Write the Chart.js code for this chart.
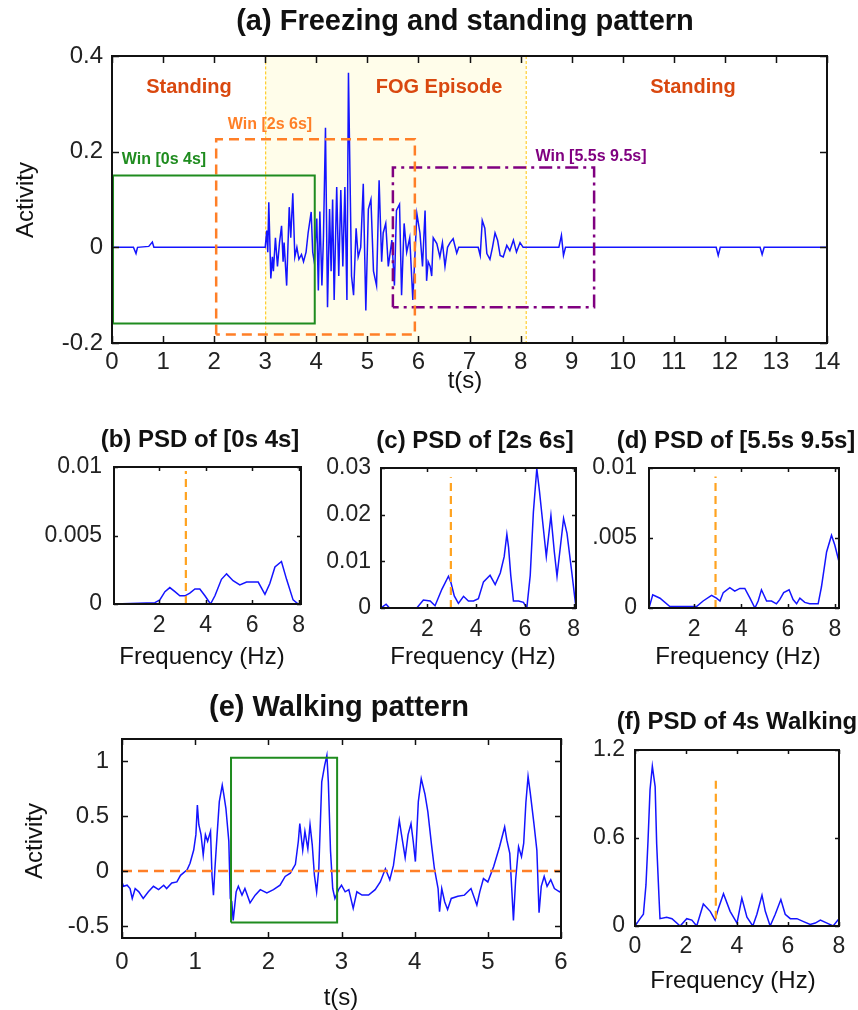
<!DOCTYPE html>
<html>
<head>
<meta charset="utf-8">
<script src="https://cdn.jsdelivr.net/npm/chart.js@4.4.0/dist/chart.umd.min.js"></script>
<style>
  body { margin: 0; background: #fff; }
  #wrap { position: relative; width: 858px; height: 1010px; overflow: hidden; background: #fff; }
  canvas { position: absolute; left: 0; top: 0; }
</style>
</head>
<body>
<div id="wrap">
  <canvas id="ca" width="858" height="1010"></canvas>
  <canvas id="cb" width="858" height="1010"></canvas>
  <canvas id="cc" width="858" height="1010"></canvas>
  <canvas id="cd" width="858" height="1010"></canvas>
  <canvas id="ce" width="858" height="1010"></canvas>
  <canvas id="cf" width="858" height="1010"></canvas>
</div>
<script>
// ---- data ----

// (a) activity signal, freezing + standing
const sigT = [0, 0.42, 0.47, 0.5, 0.72, 0.79, 0.82, 3.0,
  3.03, 3.05, 3.07, 3.11, 3.14, 3.16, 3.20, 3.24, 3.28, 3.32, 3.35, 3.37, 3.42, 3.47, 3.50, 3.54, 3.58,
  3.62, 3.66, 3.71, 3.75, 3.80, 3.84, 3.90, 3.93, 3.96, 4.01, 4.04, 4.07, 4.11, 4.14, 4.18, 4.22, 4.26,
  4.29, 4.32, 4.35, 4.40, 4.44, 4.48, 4.52, 4.56, 4.60, 4.63, 4.66, 4.69, 4.73, 4.78, 4.82, 4.87, 4.92,
  4.97, 5.02, 5.07, 5.12, 5.18, 5.23, 5.28, 5.31, 5.36, 5.41, 5.48, 5.53, 5.57, 5.63, 5.67, 5.72, 5.77,
  5.83, 5.89, 5.97, 6.03, 6.08, 6.13, 6.16, 6.19, 6.23, 6.26, 6.29, 6.36, 6.42, 6.47, 6.52, 6.57, 6.62,
  6.68, 6.75, 6.79, 7.17, 7.21, 7.25, 7.30, 7.34, 7.40, 7.45, 7.50, 7.55, 7.60, 7.66, 7.73, 7.79, 7.86,
  7.92, 7.99, 8.05, 8.75, 8.80, 8.84, 8.88, 11.83, 11.87, 11.91, 12.69, 12.73, 12.77, 14];
const sigV = [0, 0, -0.013, 0, 0.002, 0.011, 0, 0,
  0.035, -0.01, 0.094, -0.065, -0.02, -0.05, 0.02, -0.04, 0.01, 0.045, -0.03, 0.01, -0.08, 0.084, 0.02, 0.113, -0.02,
  0, -0.025, -0.015, -0.03, -0.01, 0.03, 0.074, -0.01, -0.03, 0.06, -0.09, 0.075, -0.08, 0.02, 0.25, -0.125, 0.08,
  -0.05, 0.10, -0.11, 0.126, -0.06, 0.12, -0.04, 0.126, -0.11, 0.365, 0.15, -0.06, -0.10, 0.04, -0.02, 0, 0.133,
  -0.132, 0.08, 0.10, -0.05, -0.08, 0.14, -0.03, 0.03, 0.05, -0.04, 0.015, -0.08, 0.077, 0.09, -0.10, 0.05, -0.01,
  0.02, -0.11, 0.07, 0.03, -0.04, 0.077, -0.07, -0.03, -0.04, -0.06, 0.02, 0.008, -0.02, 0.01, -0.04, 0, 0.01,
  0.018, -0.012, 0, 0, -0.017, 0.056, 0.04, -0.013, -0.025, 0, 0.03, 0.015, -0.017, -0.02, 0.004, -0.007, 0.015,
  -0.01, 0.01, 0, 0, 0.025, -0.017, 0, 0, -0.017, 0, 0, -0.015, 0, 0];

// FOG episode span and the three analysis windows (seconds / activity units)
const fogSpan = [3.0, 8.1];
const winStart = [0.02, 2.04, 5.5];
const winEnd = [3.97, 5.93, 9.44];
const winHigh = [0.15, 0.226, 0.167];
const winLow = [-0.159, -0.182, -0.125];

// (b) PSD of [0s 4s]
const psdBF = [0.06, 1.82, 2.03, 2.25, 2.46, 2.68, 2.89, 3.11, 3.32, 3.54, 3.75, 3.97, 4.21, 4.40, 4.68, 4.90,
  5.18, 5.47, 5.76, 6.26, 6.55, 6.76, 6.98, 7.26, 7.48, 7.76, 7.98];
const psdBV = [0, 0.0001, 0.0003, 0.0009, 0.0012, 0.0009, 0.0006, 0.0006, 0.0008, 0.0011, 0.0011, 0.0006, 0, 0.0006,
  0.0018, 0.0022, 0.0017, 0.0014, 0.0016, 0.0016, 0.0007, 0.0015, 0.0027, 0.0031, 0.0018, 0.0003, 0];

// (c) PSD of [2s 6s]
const psdCF = [0.09, 0.30, 0.44, 1.56, 1.83, 2.11, 2.31, 2.59, 2.86, 2.96, 3.10, 3.27, 3.48, 3.68, 3.89, 4.09,
  4.30, 4.57, 4.78, 4.99, 5.15, 5.26, 5.33, 5.42, 5.53, 5.74, 5.94, 6.08, 6.22, 6.35, 6.49, 6.60, 6.74, 6.88,
  7.07, 7.21, 7.32, 7.59, 7.73, 7.93, 8.1];
const psdCV = [0, 0.0008, 0, 0, 0.0017, 0.0015, 0.0005, 0.004, 0.0068, 0.0055, 0.0026, 0.001, 0.0025, 0.0015,
  0.0015, 0.002, 0.0056, 0.007, 0.005, 0.0075, 0.011, 0.0158, 0.013, 0.007, 0.0015, 0.0015, 0.0012, 0, 0.007,
  0.0206, 0.0299, 0.025, 0.018, 0.011, 0.0198, 0.012, 0.0068, 0.0192, 0.016, 0.0075, 0];

// (d) PSD of [5.5s 9.5s]
const psdDF = [0.07, 0.23, 0.54, 0.96, 2.10, 2.38, 2.74, 2.95, 3.10, 3.24, 3.52, 3.73, 3.95, 4.16, 4.38, 4.59,
  4.73, 4.87, 5.09, 5.30, 5.51, 5.65, 5.82, 6.05, 6.22, 6.37, 6.51, 6.72, 6.93, 7.29, 7.43, 7.65, 7.86, 8.0, 8.18];
const psdDV = [0, 0.00095, 0.0007, 0.0001, 0.0001, 0.0005, 0.0009, 0.0007, 0.0005, 0.0011, 0.00145, 0.0012, 0.0014,
  0.0014, 0.0007, 0, 0.0005, 0.0013, 0.0005, 0.0005, 0.0003, 0.0006, 0.0011, 0.0013, 0.0006, 0.0003, 0.0007,
  0.0004, 0.0003, 0.0003, 0.0015, 0.004, 0.0052, 0.0045, 0.0033];

// (e) walking activity
const walkT = [0, 0.02, 0.07, 0.11, 0.14, 0.18, 0.23, 0.29, 0.36, 0.43, 0.50, 0.57, 0.61, 0.68, 0.75, 0.80, 0.89,
  0.93, 0.98, 1.01, 1.03, 1.05, 1.08, 1.11, 1.14, 1.17, 1.21, 1.23, 1.25, 1.27, 1.30, 1.33, 1.37, 1.39, 1.42,
  1.46, 1.48, 1.50, 1.52, 1.56, 1.59, 1.64, 1.68, 1.75, 1.82, 1.89, 1.98, 2.07, 2.16, 2.23, 2.30, 2.37, 2.41,
  2.43, 2.47, 2.50, 2.54, 2.57, 2.60, 2.63, 2.66, 2.69, 2.73, 2.77, 2.80, 2.82, 2.85, 2.88, 2.91, 2.96, 3.00,
  3.05, 3.10, 3.16, 3.21, 3.28, 3.37, 3.46, 3.53, 3.60, 3.66, 3.71, 3.76, 3.79, 3.82, 3.87, 3.91, 3.95, 3.98,
  4.01, 4.05, 4.09, 4.14, 4.18, 4.23, 4.27, 4.32, 4.34, 4.37, 4.41, 4.45, 4.50, 4.59, 4.68, 4.77, 4.85, 4.89,
  4.94, 5.00, 5.08, 5.16, 5.23, 5.26, 5.30, 5.33, 5.35, 5.38, 5.42, 5.46, 5.49, 5.52, 5.55, 5.58, 5.63, 5.67,
  5.70, 5.73, 5.77, 5.81, 5.86, 5.91, 5.98, 6.0];
const walkV = [-0.10, -0.14, -0.13, -0.16, -0.25, -0.16, -0.19, -0.25, -0.19, -0.14, -0.17, -0.13, -0.16, -0.11,
  -0.10, -0.04, 0.01, 0.07, 0.19, 0.33, 0.60, 0.42, 0.33, 0.145, 0.33, 0.27, 0.36, -0.04, -0.22, 0.02, 0.33, 0.63,
  0.78, 0.70, 0.57, 0.27, -0.25, -0.28, -0.45, -0.19, -0.14, -0.22, -0.16, -0.29, -0.22, -0.17, -0.20, -0.17,
  -0.13, -0.05, -0.02, 0.06, 0.27, 0.43, 0.19, 0.36, 0.20, 0.42, 0.24, -0.04, -0.19, 0.02, 0.81, 0.96, 1.05,
  0.81, 0.18, -0.16, -0.25, -0.17, -0.13, -0.19, -0.17, -0.34, -0.19, -0.22, -0.22, -0.17, -0.10, 0.02, -0.08,
  0.05, 0.30, 0.46, 0.33, 0.12, 0.33, 0.43, 0.27, 0.085, 0.63, 0.84, 0.70, 0.54, 0.24, 0.02, -0.16, -0.37, -0.16,
  -0.28, -0.35, -0.25, -0.23, -0.22, -0.16, -0.31, -0.19, -0.07, -0.10, 0.04, 0.22, 0.40, 0.28, 0.16, -0.20,
  -0.45, -0.08, 0.22, 0.13, 0.25, 0.62, 0.86, 0.71, 0.43, 0.19, -0.38, -0.14, -0.05, -0.14, -0.08, -0.16, -0.19,
  -0.18];
const walkWin = [1.49, 2.94, -0.47, 1.03];

// (f) PSD of 4s walking
const psdFF = [0, 0.2, 0.33, 0.43, 0.51, 0.59, 0.68, 0.79, 0.85, 0.94, 0.98, 1.24, 1.45, 1.77, 2.03, 2.23, 2.42,
  2.68, 2.95, 3.14, 3.27, 3.47, 3.73, 4.0, 4.19, 4.39, 4.62, 4.78, 4.98, 5.11, 5.30, 5.50, 5.72, 5.89, 6.09, 6.35,
  6.61, 6.87, 7.07, 7.27, 7.53, 7.77, 8.0];
const psdFV = [0, 0.05, 0.08, 0.28, 0.58, 0.93, 1.09, 0.95, 0.56, 0.2, 0.05, 0.06, 0.05, 0, 0.05, 0.04, 0,
  0.15, 0.1, 0.04, 0.12, 0.22, 0.1, 0.02, 0.19, 0.06, 0, 0.08, 0.21, 0.1, 0, 0.08, 0.18, 0.08, 0.05, 0.05,
  0.03, 0.01, 0.02, 0.04, 0.02, 0, 0.05];

// threshold (freeze band) lines drawn in the PSD panels
const threshB = 3.15, threshC = 2.96, threshD = 2.91, threshF = 3.17;

// tick values and labels
const aXTicks = [0, 1, 2, 3, 4, 5, 6, 7, 8, 9, 10, 11, 12, 13, 14];
const aYTicks = [-0.2, 0, 0.2, 0.4];
const aYLabels = ['-0.2', '0', '0.2', '0.4'];
const psdXTicks = [2, 4, 6, 8];
const bYTicks = [0, 0.005, 0.01];
const bYLabels = ['0', '0.005', '0.01'];
const cYTicks = [0, 0.01, 0.02, 0.03];
const cYLabels = ['0', '0.01', '0.02', '0.03'];
const dYLabels = ['0', '.005', '0.01'];
const eXTicks = [0, 1, 2, 3, 4, 5, 6];
const eYTicks = [-0.5, 0, 0.5, 1];
const eYLabels = ['-0.5', '0', '0.5', '1'];
const fXTicks = [0, 2, 4, 6, 8];
const fYTicks = [0, 0.6, 1.2];
const fYLabels = ['0', '0.6', '1.2'];

// ---- drawing ----
const FONT = "'Liberation Sans', Arial, Helvetica, sans-serif";
const W = 858, H = 1010;
const AXW = 100, AXH = 44;   // room kept for tick labels (labels are clipped to the scale box)
const BLUE = 'rgb(20,20,255)';
const GREEN = '#1f8c1f';
const ORANGE = '#ff7f27';
const AMBER = '#ffa320';
const PURPLE = '#800080';
const RED = '#d9480f';

const zip = (xs, ys) => xs.map((x, i) => ({ x: x, y: ys[i] }));
const rectPts = (x0, x1, y0, y1) => [{ x: x0, y: y0 }, { x: x0, y: y1 }, { x: x1, y: y1 }, { x: x1, y: y0 }, { x: x0, y: y0 }];

const matlab = {
  id: 'matlab',
  beforeDatasetsDraw(chart, args, opts) {
    if (!opts.shade) return;
    const { ctx, chartArea: a, scales: { x } } = chart;
    const x0 = x.getPixelForValue(opts.shade[0]), x1 = x.getPixelForValue(opts.shade[1]);
    ctx.save();
    ctx.fillStyle = '#fffdea';
    ctx.fillRect(x0, a.top, x1 - x0, a.height);
    ctx.strokeStyle = '#ffc400';
    ctx.lineWidth = 1;
    ctx.setLineDash([3, 2]);
    ctx.strokeRect(x0 + 0.5, a.top + 0.5, x1 - x0, a.height - 1);
    ctx.restore();
  },
  afterDatasetsDraw(chart, args, opts) {
    const { ctx, chartArea: a, scales: { x, y } } = chart;
    const len = opts.tick || 6;
    ctx.save();
    ctx.strokeStyle = '#111';
    ctx.lineWidth = 1.5;
    ctx.beginPath();
    x.ticks.forEach(t => {
      const p = Math.round(x.getPixelForValue(t.value)) + 0.5;
      ctx.moveTo(p, a.bottom); ctx.lineTo(p, a.bottom - len);
      ctx.moveTo(p, a.top); ctx.lineTo(p, a.top + len);
    });
    y.ticks.forEach(t => {
      const p = Math.round(y.getPixelForValue(t.value)) + 0.5;
      ctx.moveTo(a.left, p); ctx.lineTo(a.left + len, p);
      ctx.moveTo(a.right, p); ctx.lineTo(a.right - len, p);
    });
    ctx.stroke();
    ctx.lineWidth = 2;
    ctx.strokeRect(a.left, a.top, a.width, a.height);
    ctx.restore();
  },
  afterDraw(chart, args, opts) {
    const ctx = chart.ctx;
    (opts.notes || []).forEach(n => {
      ctx.save();
      ctx.font = (n.bold ? 'bold ' : '') + n.size + 'px ' + FONT;
      ctx.fillStyle = n.color || '#111';
      ctx.textAlign = 'center';
      ctx.textBaseline = 'middle';
      ctx.translate(n.x, n.y);
      if (n.rot) ctx.rotate(n.rot * Math.PI / 180);
      ctx.fillText(n.text, 0, 0);
      ctx.restore();
    });
  }
};

function axis(a, horizontal) {
  return {
    type: 'linear', min: a.min, max: a.max,
    grid: { display: false, drawTicks: false },
    border: { display: false },
    afterBuildTicks: s => { s.ticks = a.ticks.map(v => ({ value: v })); },
    afterFit: s => {
      if (horizontal) s.height = AXH; else s.width = AXW;
      s.paddingLeft = s.paddingRight = s.paddingTop = s.paddingBottom = 0;
    },
    ticks: {
      autoSkip: false, maxRotation: 0, minRotation: 0, padding: a.pad, color: '#222',
      font: { family: FONT, size: a.size || 23 },
      callback: (v, i) => a.labels[i]
    }
  };
}

function panel(id, rect, xa, ya, datasets, extra) {
  const [L, T, R, B] = rect;
  return new Chart(document.getElementById(id), {
    type: 'line',
    data: { datasets: datasets },
    options: {
      responsive: false, animation: false, devicePixelRatio: 1,
      layout: { padding: { left: L - AXW, top: T, right: W - R, bottom: H - B - AXH } },
      elements: { point: { radius: 0 }, line: { tension: 0 } },
      plugins: { legend: { display: false }, tooltip: { enabled: false }, matlab: extra },
      scales: { x: axis(xa, true), y: axis(ya, false) }
    },
    plugins: [matlab]
  });
}

const signal = (xs, ys) => ({ data: zip(xs, ys), borderColor: BLUE, borderWidth: 1.5, order: 5 });
const thresh = (f, y0, y1) => ({ data: [{ x: f, y: y0 }, { x: f, y: y1 }], borderColor: AMBER, borderWidth: 2.2, borderDash: [8, 5], order: 1 });
const winColors = [GREEN, ORANGE, PURPLE];
const winDash = [[], [10, 6], [13, 5, 3, 5]];

// (a)
panel('ca', [112, 56, 827, 343],
  { min: 0, max: 14, ticks: aXTicks, labels: aXTicks.map(String), pad: 5, size: 24 },
  { min: -0.2, max: 0.4, ticks: aYTicks, labels: aYLabels, pad: 9, size: 24 },
  [signal(sigT, sigV)].concat(winStart.map((s, i) => ({
    data: rectPts(s, winEnd[i], winLow[i], winHigh[i]),
    borderColor: winColors[i], borderWidth: i === 0 ? 2 : 2.5, borderDash: winDash[i], order: 1
  }))),
  {
    shade: fogSpan, tick: 7,
    notes: [
      { text: '(a) Freezing and standing pattern', x: 465, y: 22, size: 29, bold: true },
      { text: 'Activity', x: 26, y: 200, size: 24, rot: -90 },
      { text: 't(s)', x: 465, y: 381, size: 24 },
      { text: 'Standing', x: 189, y: 87, size: 20, bold: true, color: RED },
      { text: 'FOG Episode', x: 439, y: 87, size: 20, bold: true, color: RED },
      { text: 'Standing', x: 693, y: 87, size: 20, bold: true, color: RED },
      { text: 'Win [0s 4s]', x: 164, y: 160, size: 16, bold: true, color: GREEN },
      { text: 'Win [2s 6s]', x: 270, y: 125, size: 16, bold: true, color: ORANGE },
      { text: 'Win [5.5s 9.5s]', x: 591, y: 157, size: 16, bold: true, color: PURPLE }
    ]
  });

// (b)
panel('cb', [114, 467, 301, 604],
  { min: 0.06, max: 8.1, ticks: psdXTicks, labels: psdXTicks.map(String), pad: 8 },
  { min: 0, max: 0.01, ticks: bYTicks, labels: bYLabels, pad: 12 },
  [signal(psdBF, psdBV), thresh(threshB, 0, 0.0097)],
  {
    tick: 4, notes: [
      { text: '(b) PSD of [0s 4s]', x: 200, y: 440, size: 24, bold: true },
      { text: 'Frequency (Hz)', x: 202, y: 657, size: 24 }
    ]
  });

// (c)
panel('cc', [381, 468, 576, 608],
  { min: 0.09, max: 8.1, ticks: psdXTicks, labels: psdXTicks.map(String), pad: 8 },
  { min: 0, max: 0.03, ticks: cYTicks, labels: cYLabels, pad: 10 },
  [signal(psdCF, psdCV), thresh(threshC, 0, 0.028)],
  {
    tick: 4, notes: [
      { text: '(c) PSD of [2s 6s]', x: 475, y: 441, size: 24, bold: true },
      { text: 'Frequency (Hz)', x: 473, y: 657, size: 24 }
    ]
  });

// (d)
panel('cd', [649, 468, 839, 608],
  { min: 0.07, max: 8.18, ticks: psdXTicks, labels: psdXTicks.map(String), pad: 8 },
  { min: 0, max: 0.01, ticks: bYTicks, labels: dYLabels, pad: 12 },
  [signal(psdDF, psdDV), thresh(threshD, 0, 0.0094)],
  {
    tick: 4, notes: [
      { text: '(d) PSD of [5.5s 9.5s]', x: 736, y: 441, size: 24, bold: true },
      { text: 'Frequency (Hz)', x: 738, y: 657, size: 24 }
    ]
  });

// (e)
panel('ce', [122, 739, 561, 938],
  { min: 0, max: 6, ticks: eXTicks, labels: eXTicks.map(String), pad: 10, size: 24 },
  { min: -0.61, max: 1.2, ticks: eYTicks, labels: eYLabels, pad: 13, size: 24 },
  [
    signal(walkT, walkV),
    { data: [{ x: 0, y: 0 }, { x: 6, y: 0 }], borderColor: ORANGE, borderWidth: 2.5, borderDash: [10, 6], order: 2 },
    { data: rectPts(walkWin[0], walkWin[1], walkWin[2], walkWin[3]), borderColor: GREEN, borderWidth: 2, order: 1 }
  ],
  {
    tick: 6, notes: [
      { text: '(e) Walking pattern', x: 339, y: 708, size: 29, bold: true },
      { text: 'Activity', x: 35, y: 841, size: 24, rot: -90 },
      { text: 't(s)', x: 341, y: 998, size: 24 }
    ]
  });

// (f)
panel('cf', [635, 750, 839, 926],
  { min: 0, max: 8, ticks: fXTicks, labels: fXTicks.map(String), pad: 7 },
  { min: 0, max: 1.2, ticks: fYTicks, labels: fYLabels, pad: 10 },
  [signal(psdFF, psdFV), thresh(threshF, 0.05, 0.99)],
  {
    tick: 4, notes: [
      { text: '(f) PSD of 4s Walking', x: 737, y: 722, size: 24, bold: true },
      { text: 'Frequency (Hz)', x: 733, y: 981, size: 24 }
    ]
  });
</script>
</body>
</html>
